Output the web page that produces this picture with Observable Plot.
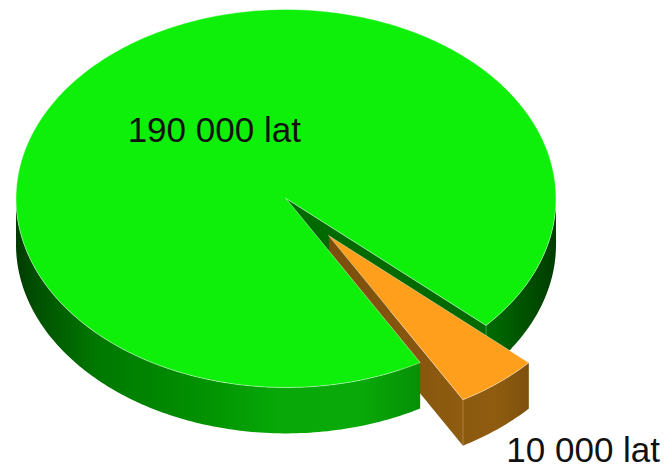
<!DOCTYPE html>
<html><head><meta charset="utf-8">
<script src="https://cdn.jsdelivr.net/npm/d3@7"></script>
<script src="https://cdn.jsdelivr.net/npm/@observablehq/plot@0.6"></script>
<style>html,body{margin:0;padding:0;background:#fff}svg{display:block}</style>
</head><body><div id="chart"></div>
<script>
// Data
const labels = ["190 000 lat", "10 000 lat"];
const values = [190000, 10000];

// Pie projection (all in units of the pie radius)
const W = 664, H = 466, radiusPx = 270, cxPx = 285.5, cyPx = 198;
const tilt = 0.7, depth = 0.17, explode = 0.253;
const labelX = [-0.5865, 0.816], labelY = [-0.21, 0.976];
const gapStart = 42.2 * Math.PI / 180;               // clockwise on screen from 3 o'clock
const total = d3.sum(values);
const sweep = 2 * Math.PI * values[1] / total;
const gapEnd = gapStart + sweep, mid = gapStart + sweep / 2;
const off = {x: explode * Math.cos(mid), y: explode * Math.sin(mid) * tilt};

const P = (a, o = {x: 0, y: 0}, d = 0) => ({x: o.x + Math.cos(a), y: o.y + Math.sin(a) * tilt + d});
const arc = (a0, a1, o, d) => {
  const n = Math.max(2, Math.ceil(Math.abs(a1 - a0) * 60));
  return d3.range(n + 1).map(i => P(a0 + (a1 - a0) * i / n, o, d));
};
const close = pts => [...pts, pts[0]];
const O = {x: 0, y: 0};
const apex = (o = O, d = 0) => ({x: o.x, y: o.y + d});

const greenTop = close([apex(), ...arc(gapEnd, gapStart + 2 * Math.PI, O, 0)]);
const frontWall = close([...arc(gapEnd, Math.PI, O, 0), ...arc(Math.PI, gapEnd, O, depth)]);
const rightWall = close([...arc(0, gapStart, O, 0), ...arc(gapStart, 0, O, depth)]);
const cutWall = close([apex(), P(gapStart), P(gapStart, O, depth), apex(O, depth)]);
const orangeTop = close([apex(off), ...arc(gapStart, gapEnd, off, 0)]);
const orangeOuter = close([...arc(gapStart, gapEnd, off, 0), ...arc(gapEnd, gapStart, off, depth)]);
const orangeSide = close([apex(off), P(gapEnd, off), P(gapEnd, off, depth), apex(off, depth)]);

const grad = (id, stops) => {
  const g = d3.create("svg:linearGradient").attr("id", id).attr("x1", 0).attr("x2", 1).attr("y1", 0).attr("y2", 0);
  stops.forEach(([o, c]) => g.append("stop").attr("offset", o).attr("stop-color", c));
  return g.node();
};
const defs = () => {
  const d = d3.create("svg:defs");
  d.node().append(
    grad("gFront", [[0, "#003a00"], [0.05, "#005000"], [0.2, "#007800"], [0.45, "#019001"], [0.65, "#07a807"], [0.85, "#09a909"], [1, "#059005"]]),
    grad("gRight", [[0, "#006c00"], [1, "#003c00"]]),
    grad("gOuter", [[0, "#8c5a0f"], [0.5, "#8f5c10"], [1, "#7d500d"]]),
    grad("gSide", [[0, "#7a4e0c"], [1, "#8f5c10"]])
  );
  return d.node();
};
const poly = (pts, fill) => Plot.line(pts, {x: "x", y: "y", fill, stroke: "none", curve: "linear"});
const edge = (pts, op = 0.55) => Plot.line(pts, {x: "x", y: "y", stroke: "#fff", strokeWidth: 0.8, strokeOpacity: op, curve: "linear"});

const chart = Plot.plot({
  width: W, height: H, margin: 0,
  style: {background: "#fff"},
  x: {domain: [-cxPx / radiusPx, (W - cxPx) / radiusPx], range: [0, W], axis: null},
  y: {domain: [-cyPx / radiusPx, (H - cyPx) / radiusPx], range: [0, H], axis: null},
  marks: [
    defs,
    poly(rightWall, "url(#gRight)"),
    poly(cutWall, "#006a00"),
    edge([P(gapStart), P(gapStart, O, depth)], 0.35),
    poly(orangeSide, "url(#gSide)"),
    poly(orangeOuter, "url(#gOuter)"),
    edge([P(gapEnd, off), P(gapEnd, off, depth)], 0.3),
    poly(orangeTop, "#ff9f1c"),
    edge(orangeTop, 0.5),
    poly(frontWall, "url(#gFront)"),
    poly(greenTop, "#0ef00a"),
    edge(greenTop, 0.55),
    Plot.text(labels, {
      x: labelX, y: labelY,
      text: labels, textAnchor: "start", lineAnchor: "bottom",
      fontSize: 35, fontFamily: "Liberation Sans", fill: "#111"
    })
  ]
});
document.getElementById("chart").append(chart);
</script></body></html>
